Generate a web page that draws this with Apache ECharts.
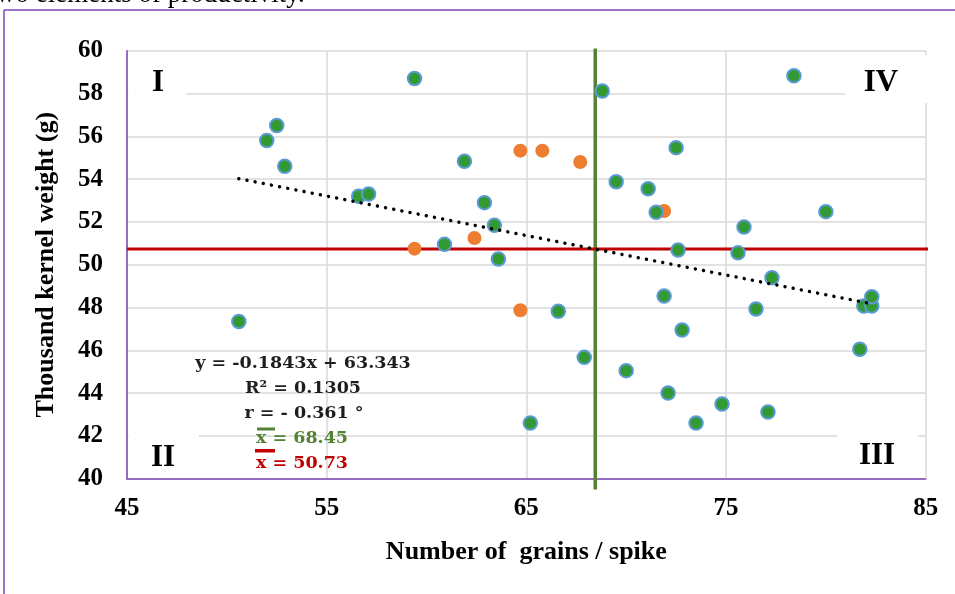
<!DOCTYPE html>
<html>
<head>
<meta charset="utf-8">
<style>html,body{margin:0;padding:0;background:#fff;}#chart{width:955px;height:594px;}</style>
<script src="https://cdn.jsdelivr.net/npm/echarts@6/dist/echarts.min.js"></script>
</head>
<body>
<div id="chart"></div>
<script>
// Data
const grainsGreen = [50.6, 52.0, 52.5, 52.9, 56.6, 57.1, 59.4, 60.9, 61.9, 62.9, 63.4, 63.6, 65.2, 66.6, 67.9, 68.8, 69.5, 70.0, 71.1, 71.5, 71.9, 72.1, 72.5, 72.6, 72.8, 73.5, 74.8, 75.6, 75.9, 76.5, 77.1, 77.3, 78.4, 80.0, 81.7, 81.9, 82.3, 82.3];
const weightGreen = [47.35, 55.8, 56.5, 54.6, 53.2, 53.3, 58.7, 50.95, 54.83, 52.9, 51.84, 50.27, 42.6, 47.82, 45.67, 58.12, 53.88, 45.05, 53.55, 52.45, 48.54, 44.0, 55.47, 50.69, 46.95, 42.6, 43.49, 50.56, 51.76, 47.93, 43.12, 49.39, 58.83, 52.48, 46.05, 48.07, 48.07, 48.5];
const grainsOrange = [59.4, 62.4, 64.7, 65.8, 67.7, 64.7, 71.9];
const weightOrange = [50.75, 51.25, 55.33, 55.33, 54.8, 47.87, 52.51];
const trendX = [50.6, 82.3];
const trendY = [54.02, 48.17];
const meanGrains = 68.45;
const meanWeight = 50.73;
const meanGrainsSpan = [60.1, 39.5];
const meanWeightSpan = [45, 85.2];
const xTicks = {min: 45, max: 85, interval: 10};
const yTicks = {min: 40, max: 60, interval: 2};
const eqLines = ['y = -0.1843x + 63.343', 'R\u00b2 = 0.1305', 'r = - 0.361 \u00b0'];
const meanLabels = ['x = 68.45', 'x = 50.73'];
const quadrants = ['I', 'II', 'III', 'IV'];

const zip = (a, b) => a.map((v, i) => [v, b[i]]);
const serif = '"Liberation Serif", "Times New Roman", serif';
const eqFont = '"DejaVu Serif", serif';
const purple = '#7e44b8';

const chart = echarts.init(document.getElementById('chart'), null, {renderer: 'canvas'});
const option = {
  backgroundColor: '#ffffff',
  animation: false,
  grid: {left: 127, right: 29.3, top: 50.7, bottom: 115.3, containLabel: false},
  xAxis: {
    type: 'value', min: xTicks.min, max: xTicks.max, interval: xTicks.interval,
    name: 'Number of  grains / spike', nameLocation: 'middle', nameGap: 61,
    nameTextStyle: {fontFamily: serif, fontWeight: 'bold', fontSize: 26, color: '#000'},
    axisLine: {show: true, lineStyle: {color: purple, width: 1.5}},
    axisTick: {show: false},
    axisLabel: {fontFamily: serif, fontWeight: 'bold', fontSize: 25, color: '#000', margin: 17},
    splitLine: {show: true, lineStyle: {color: '#d9d9d9', width: 1.5}}
  },
  yAxis: {
    type: 'value', min: yTicks.min, max: yTicks.max, interval: yTicks.interval,
    name: 'Thousand kernel weight (g)', nameLocation: 'middle', nameGap: 68,
    nameTextStyle: {fontFamily: serif, fontWeight: 'bold', fontSize: 26, color: '#000'},
    axisLine: {show: true, lineStyle: {color: purple, width: 1.5}},
    axisTick: {show: false},
    axisLabel: {fontFamily: serif, fontWeight: 'bold', fontSize: 25, color: '#000', margin: 24},
    splitLine: {show: true, lineStyle: {color: '#d9d9d9', width: 1.5}}
  },
  series: [
    {
      type: 'line', data: zip([meanGrains, meanGrains], meanGrainsSpan), symbol: 'none', clip: false, z: 1,
      lineStyle: {color: '#548235', width: 3.5}
    },
    {
      type: 'line', data: zip(meanWeightSpan, [meanWeight, meanWeight]), symbol: 'none', clip: false, z: 1,
      lineStyle: {color: '#c00000', width: 3}
    },
    {
      type: 'scatter', data: zip(grainsOrange, weightOrange), symbol: 'circle', symbolSize: 14, z: 3,
      itemStyle: {color: '#ed7d31', opacity: 1}
    },
    {
      type: 'scatter', data: zip(grainsGreen, weightGreen), symbol: 'circle', symbolSize: 13.5, z: 4,
      itemStyle: {color: '#339933', borderColor: '#5b9bd5', borderWidth: 2, opacity: 1}
    },
    {
      type: 'line', data: zip(trendX, trendY), symbol: 'none', z: 5,
      lineStyle: {color: '#000', width: 3.5, type: [0.01, 8.3], cap: 'round'}
    }
  ],
  graphic: [
    // outer frame
    {type: 'line', shape: {x1: 4, y1: 10, x2: 955, y2: 10}, style: {stroke: purple, lineWidth: 1.5}, z: 10},
    {type: 'line', shape: {x1: 4, y1: 10, x2: 4, y2: 594}, style: {stroke: purple, lineWidth: 1.5}, z: 10},
    {type: 'text', x: -4, y: 8.5, style: {text: 'wo elements of productivity.', fontFamily: serif, fontSize: 27, fill: '#000', verticalAlign: 'bottom', align: 'left'}, z: 10},
    // quadrant label backgrounds
    {type: 'rect', shape: {x: 128.5, y: 60, width: 58, height: 40}, style: {fill: '#fff'}, z: 1},
    {type: 'rect', shape: {x: 845, y: 55, width: 84, height: 48}, style: {fill: '#fff'}, z: 1},
    {type: 'rect', shape: {x: 128.5, y: 424, width: 70.5, height: 50}, style: {fill: '#fff'}, z: 1},
    {type: 'rect', shape: {x: 837, y: 424, width: 81, height: 50}, style: {fill: '#fff'}, z: 1},
    {type: 'text', x: 158, y: 83, style: {text: quadrants[0], fontFamily: serif, fontWeight: 'bold', fontSize: 31, fill: '#000', align: 'center', verticalAlign: 'middle'}, z: 2},
    {type: 'text', x: 163, y: 458, style: {text: quadrants[1], fontFamily: serif, fontWeight: 'bold', fontSize: 31, fill: '#000', align: 'center', verticalAlign: 'middle'}, z: 2},
    {type: 'text', x: 877, y: 456, style: {text: quadrants[2], fontFamily: serif, fontWeight: 'bold', fontSize: 31, fill: '#000', align: 'center', verticalAlign: 'middle'}, z: 2},
    {type: 'text', x: 881, y: 83, style: {text: quadrants[3], fontFamily: serif, fontWeight: 'bold', fontSize: 31, fill: '#000', align: 'center', verticalAlign: 'middle'}, z: 2},
    // regression annotation
    {type: 'text', x: 303, y: 363, style: {text: eqLines[0], fontFamily: eqFont, fontWeight: 'bold', fontSize: 17.5, fill: '#1e1e1e', align: 'center', verticalAlign: 'middle'}, z: 6},
    {type: 'text', x: 303, y: 388, style: {text: eqLines[1], fontFamily: eqFont, fontWeight: 'bold', fontSize: 17.5, fill: '#1e1e1e', align: 'center', verticalAlign: 'middle'}, z: 6},
    {type: 'text', x: 304, y: 413, style: {text: eqLines[2], fontFamily: eqFont, fontWeight: 'bold', fontSize: 17.5, fill: '#1e1e1e', align: 'center', verticalAlign: 'middle'}, z: 6},
    {type: 'text', x: 302, y: 438, style: {text: meanLabels[0], fontFamily: eqFont, fontWeight: 'bold', fontSize: 17.5, fill: '#548235', align: 'center', verticalAlign: 'middle'}, z: 6},
    {type: 'text', x: 302, y: 463, style: {text: meanLabels[1], fontFamily: eqFont, fontWeight: 'bold', fontSize: 17.5, fill: '#c00000', align: 'center', verticalAlign: 'middle'}, z: 6},
    {type: 'rect', shape: {x: 257, y: 427.5, width: 18, height: 3}, style: {fill: '#548235'}, z: 6},
    {type: 'rect', shape: {x: 255, y: 449, width: 20, height: 3.5}, style: {fill: '#c00000'}, z: 6}
  ]
};
chart.setOption(option);
</script>
</body>
</html>
